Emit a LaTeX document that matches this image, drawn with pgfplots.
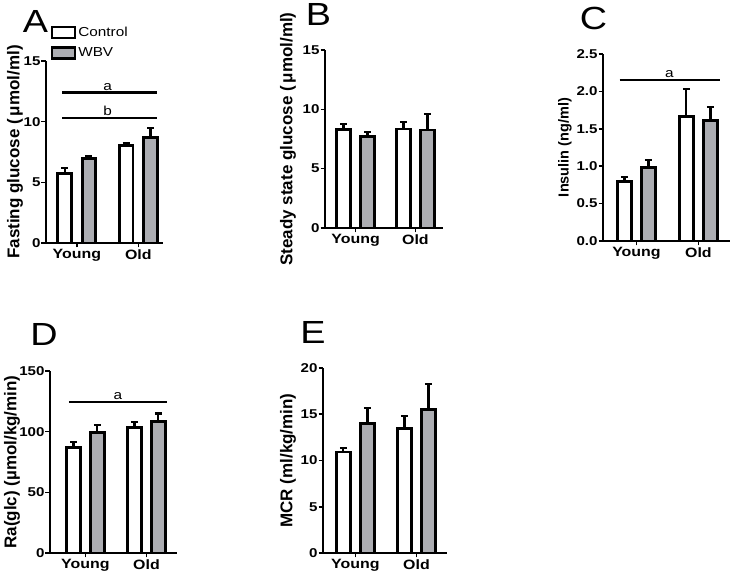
\documentclass[border=0pt]{standalone}
\usepackage{fontspec}
\setmainfont{Liberation Sans}
\usepackage{graphicx}
\usepackage{pgfplots}
\pgfplotsset{compat=1.18}
\newcommand{\wx}[1]{\scalebox{1.18}[1]{#1}}
\definecolor{wbvgray}{RGB}{172,173,178}
\tikzset{
 sig/.style={line width=2.2pt},
 sigtxt/.style={anchor=south, inner sep=2pt, font=\fontsize{13}{15}\selectfont},
 letter/.style={font=\fontsize{32}{36}\selectfont},
}
\pgfplotsset{
 panel/.style={
  scale only axis,
  axis x line=bottom, axis y line=left,
  axis line style={line width=2pt, -},
  tick style={line width=1.6pt, black},
  major tick length=4.5pt,
  tick align=outside,
  xtick={1,2}, xticklabels={\wx{Young},\wx{Old}},
  ymin=0,
  /pgf/number format/assume math mode=true,
  yticklabel={\wx{\pgfmathprintnumber{\tick}}},
  yticklabel style={font=\fontsize{12.8}{14}\selectfont\bfseries, inner sep=0.8pt},
  xticklabel style={font=\fontsize{13.5}{15}\selectfont\bfseries, inner sep=2pt},
  ylabel style={at={(rel axis cs:0,0.5)}, anchor=center, font=\fontsize{17}{19}\selectfont\bfseries},
  clip=false,
  error bars/y dir=plus, error bars/y explicit,
  error bars/error bar style={line width=2.2pt,black},
  error bars/error mark options={rotate=90, line width=2.2pt, black, mark size=3.5pt},
 },
 ctl/.style={ybar, bar width=13.6pt, bar shift=0pt, fill=white, draw=black, line width=2.8pt},
 wbv/.style={ybar, bar width=13.6pt, bar shift=0pt, fill=wbvgray, draw=black, line width=2.8pt},
}
\begin{document}
\begin{tikzpicture}
\useasboundingbox (0,0) rectangle (731pt,577pt);
% Panel A
\begin{axis}[panel, at={(46pt,334pt)}, anchor=south west, width=117pt, height=182pt,
  xmin=0.5, xmax=2.40, ymax=15, ytick={0,5,10,15},
  ylabel={Fasting glucose (\,μmol/ml)}, ylabel style={yshift=31pt},
  legend style={at={(rel axis cs:0.04,1.2)}, anchor=north west, draw=none, fill=none,
    font=\fontsize{13}{15}\selectfont, row sep=6pt, inner sep=0pt,
    /tikz/every even column/.append style={column sep=10pt}},
  legend cell align=left]
\addplot[ctl, legend image code/.code={\draw[line width=2.4pt,fill=white] (0pt,-5.5pt) rectangle (23pt,5.5pt);}]
  coordinates {(0.803,5.7) +- (0,0.5) (1.803,8.05) +- (0,0.15)};
\addlegendentry{\wx{Control}}
\addplot[wbv, legend image code/.code={\draw[line width=2.4pt,fill=wbvgray] (0pt,-5.5pt) rectangle (23pt,5.5pt);}]
  coordinates {(1.197,6.95) +- (0,0.25) (2.197,8.7) +- (0,0.8)};
\addlegendentry{\wx{WBV}}
\draw[sig] (axis cs:0.76,12.4) -- (axis cs:2.30,12.4);
\node[sigtxt] at (axis cs:1.5,12.4) {\wx{a}};
\draw[sig] (axis cs:0.76,10.3) -- (axis cs:2.30,10.3);
\node[sigtxt] at (axis cs:1.5,10.3) {\wx{b}};
\end{axis}
% Panel B
\begin{axis}[panel, at={(325pt,349pt)}, anchor=south west, width=118pt, height=178pt,
  xmin=0.49, xmax=2.46, ymax=15, ytick={0,5,10,15},
  ylabel={Steady state glucose (\,μmol/ml)}, ylabel style={yshift=37pt}]
\addplot[ctl] coordinates {(0.8,8.31) +- (0,0.43) (1.8,8.34) +- (0,0.59)};
\addplot[wbv] coordinates {(1.2,7.69) +- (0,0.37) (2.2,8.26) +- (0,1.32)};
\end{axis}
% Panel C
\begin{axis}[panel, at={(603pt,336pt)}, anchor=south west, width=127pt, height=187pt,
  xmin=0.46, xmax=2.51, ymax=2.5, ytick={0,0.5,1,1.5,2,2.5},
  /pgf/number format/.cd, fixed, fixed zerofill, precision=1, /pgfplots/.cd,
  ylabel={Insulin (ng/ml)}, ylabel style={yshift=38pt, font=\fontsize{14.5}{16}\selectfont\bfseries}]
\addplot[ctl] coordinates {(0.806,0.79) +- (0,0.07) (1.806,1.665) +- (0,0.365)};
\addplot[wbv] coordinates {(1.194,0.98) +- (0,0.10) (2.194,1.61) +- (0,0.18)};
\draw[sig] (axis cs:0.73,2.15) -- (axis cs:2.35,2.15);
\node[sigtxt] at (axis cs:1.53,2.15) {\wx{a}};
\end{axis}
% Panel D
\begin{axis}[panel, at={(50pt,24pt)}, anchor=south west, width=127pt, height=182pt,
  xmin=0.42, xmax=2.5, ymax=150, ytick={0,50,100,150},
  ylabel={Ra(glc) (µmol/kg/min)}, ylabel style={yshift=38pt}]
\addplot[ctl] coordinates {(0.805,87.0) +- (0,4.7) (1.805,103.5) +- (0,4.4)};
\addplot[wbv] coordinates {(1.195,99.1) +- (0,6.3) (2.195,108.7) +- (0,6.3)};
\draw[sig] (axis cs:0.73,124.3) -- (axis cs:2.33,124.3);
\node[sigtxt] at (axis cs:1.53,124.3) {\wx{a}};
\end{axis}
% Panel E
\begin{axis}[panel, at={(323pt,24pt)}, anchor=south west, width=124pt, height=185pt,
  xmin=0.47, xmax=2.5, ymax=20, ytick={0,5,10,15,20},
  ylabel={MCR (ml/kg/min)}, ylabel style={yshift=35pt}]
\addplot[ctl] coordinates {(0.803,10.92) +- (0,0.4) (1.803,13.5) +- (0,1.35)};
\addplot[wbv] coordinates {(1.197,13.98) +- (0,1.66) (2.197,15.5) +- (0,2.8)};
\end{axis}
\node[letter] at (35.5pt,555.5pt) {\wx{A}};
\node[letter] at (318.5pt,562pt) {\wx{B}};
\node[letter] at (593.5pt,559pt) {\wx{C}};
\node[letter] at (44pt,243pt) {\wx{D}};
\node[letter] at (313pt,244.5pt) {\wx{E}};
\end{tikzpicture}
\end{document}
